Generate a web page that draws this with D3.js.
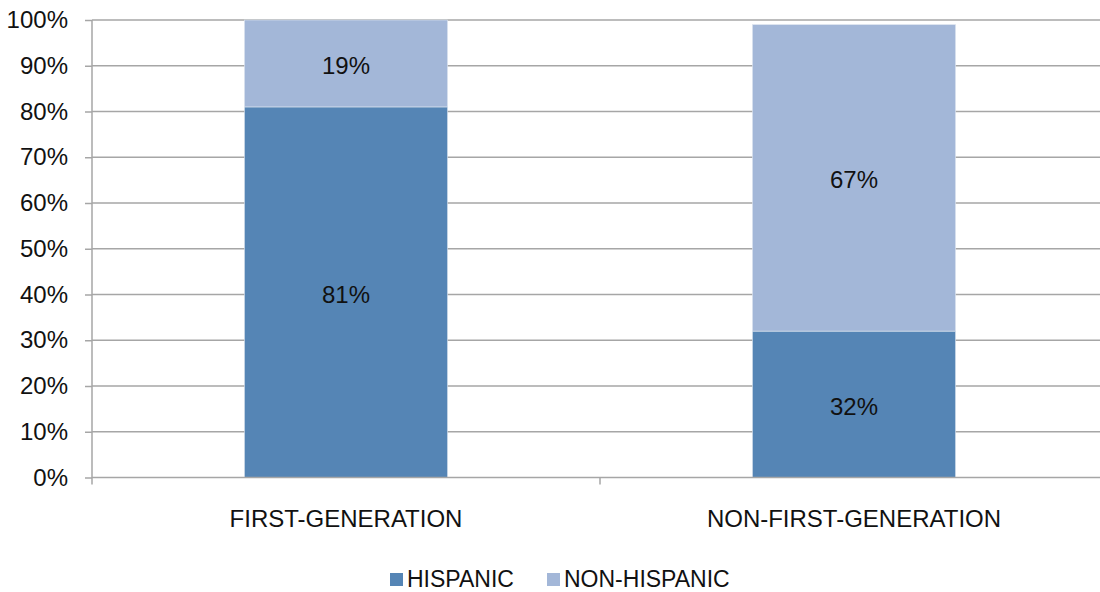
<!DOCTYPE html>
<html>
<head>
<meta charset="utf-8">
<script src="https://cdn.jsdelivr.net/npm/d3@7"></script>
<style>
  html, body { margin: 0; padding: 0; background: #fff; }
  svg { display: block; font-family: "Liberation Sans", Arial, sans-serif; }
</style>
</head>
<body>
<svg id="chart" width="1100" height="592"></svg>
<script>
// Share of students by generation status and ethnicity (percent)
const categories = ["FIRST-GENERATION", "NON-FIRST-GENERATION"];
const seriesNames = ["HISPANIC", "NON-HISPANIC"];
const hispanic = [81, 32];
const nonHispanic = [19, 67];
const yTicks = [0, 10, 20, 30, 40, 50, 60, 70, 80, 90, 100];
const colors = ["#5585b5", "#a3b7d8"];

const svg = d3.select("#chart");
const margin = { left: 92, top: 20, right: -8, bottom: 114.5 };
const W = 1100, H = 592;
const x0 = margin.left, x1 = W - margin.right;
const y0 = H - margin.bottom, y1 = margin.top;

const x = d3.scaleBand().domain(categories).range([x0, x1]).paddingInner(0).paddingOuter(0);
const y = d3.scaleLinear().domain([0, 100]).range([y0, y1]);
const barW = x.bandwidth() * 0.4;

const rows = categories.map((c, i) => ({ cat: c, HISPANIC: hispanic[i], "NON-HISPANIC": nonHispanic[i] }));
const stacked = d3.stack().keys(seriesNames)(rows);

// gridlines
svg.append("g").selectAll("line").data(yTicks.filter(t => t > 0)).join("line")
  .attr("x1", x0).attr("x2", x1)
  .attr("y1", d => y(d)).attr("y2", d => y(d))
  .attr("stroke", "#a6a6a6").attr("stroke-width", 1.5);

// bars
const layers = svg.append("g").selectAll("g").data(stacked).join("g")
  .attr("fill", (d, i) => colors[i]);
layers.selectAll("rect").data(d => d).join("rect")
  .attr("x", d => x(d.data.cat) + (x.bandwidth() - barW) / 2)
  .attr("width", barW)
  .attr("y", d => y(d[1]))
  .attr("height", d => y(d[0]) - y(d[1]))
  .attr("stroke", "#dfe6f0").attr("stroke-width", 0.6);

// value labels
layers.each(function(layer) {
  d3.select(this).selectAll("text").data(layer).join("text")
    .attr("x", d => x(d.data.cat) + x.bandwidth() / 2)
    .attr("y", d => (y(d[0]) + y(d[1])) / 2 + 2)
    .attr("dy", "0.36em")
    .attr("text-anchor", "middle")
    .attr("font-size", 24)
    .attr("fill", "#111")
    .text(d => (d[1] - d[0]) + "%");
});

// y axis
const yAxis = svg.append("g").attr("transform", `translate(${x0},0)`)
  .call(d3.axisLeft(y).tickValues(yTicks).tickSize(7).tickPadding(17).tickFormat(d => d + "%"));
yAxis.select(".domain").attr("stroke", "#a6a6a6").attr("stroke-width", 1.5)
  .attr("d", `M0,${y1}V${y0 + 7}`);
yAxis.selectAll(".tick line").attr("stroke", "#a6a6a6").attr("stroke-width", 1.5);
yAxis.selectAll(".tick text").attr("font-size", 24).attr("fill", "#111")
  .attr("font-family", "'Liberation Sans', Arial, sans-serif");

// x axis
const xAxis = svg.append("g").attr("transform", `translate(0,${y0})`);
xAxis.append("line").attr("x1", x0).attr("x2", x1).attr("y1", 0).attr("y2", 0)
  .attr("stroke", "#a6a6a6").attr("stroke-width", 1.5);
const boundaries = categories.slice(1).map(c => x(c));
xAxis.selectAll("line.sep").data(boundaries).join("line").attr("class", "sep")
  .attr("x1", d => d).attr("x2", d => d).attr("y1", 0).attr("y2", 7)
  .attr("stroke", "#a6a6a6").attr("stroke-width", 1.5);
xAxis.selectAll("text").data(categories).join("text")
  .attr("x", d => x(d) + x.bandwidth() / 2)
  .attr("y", 41).attr("dy", "0.36em")
  .attr("text-anchor", "middle").attr("font-size", 24).attr("fill", "#111")
  .text(d => d);

// legend
const legend = svg.append("g");
const legendX = [390, 547];
seriesNames.forEach((s, i) => {
  legend.append("rect").attr("x", legendX[i]).attr("y", 573).attr("width", 13).attr("height", 13)
    .attr("fill", colors[i]);
  legend.append("text").attr("x", legendX[i] + 17).attr("y", 586.5)
    .attr("font-size", 23).attr("fill", "#111").text(s);
});
</script>
</body>
</html>
